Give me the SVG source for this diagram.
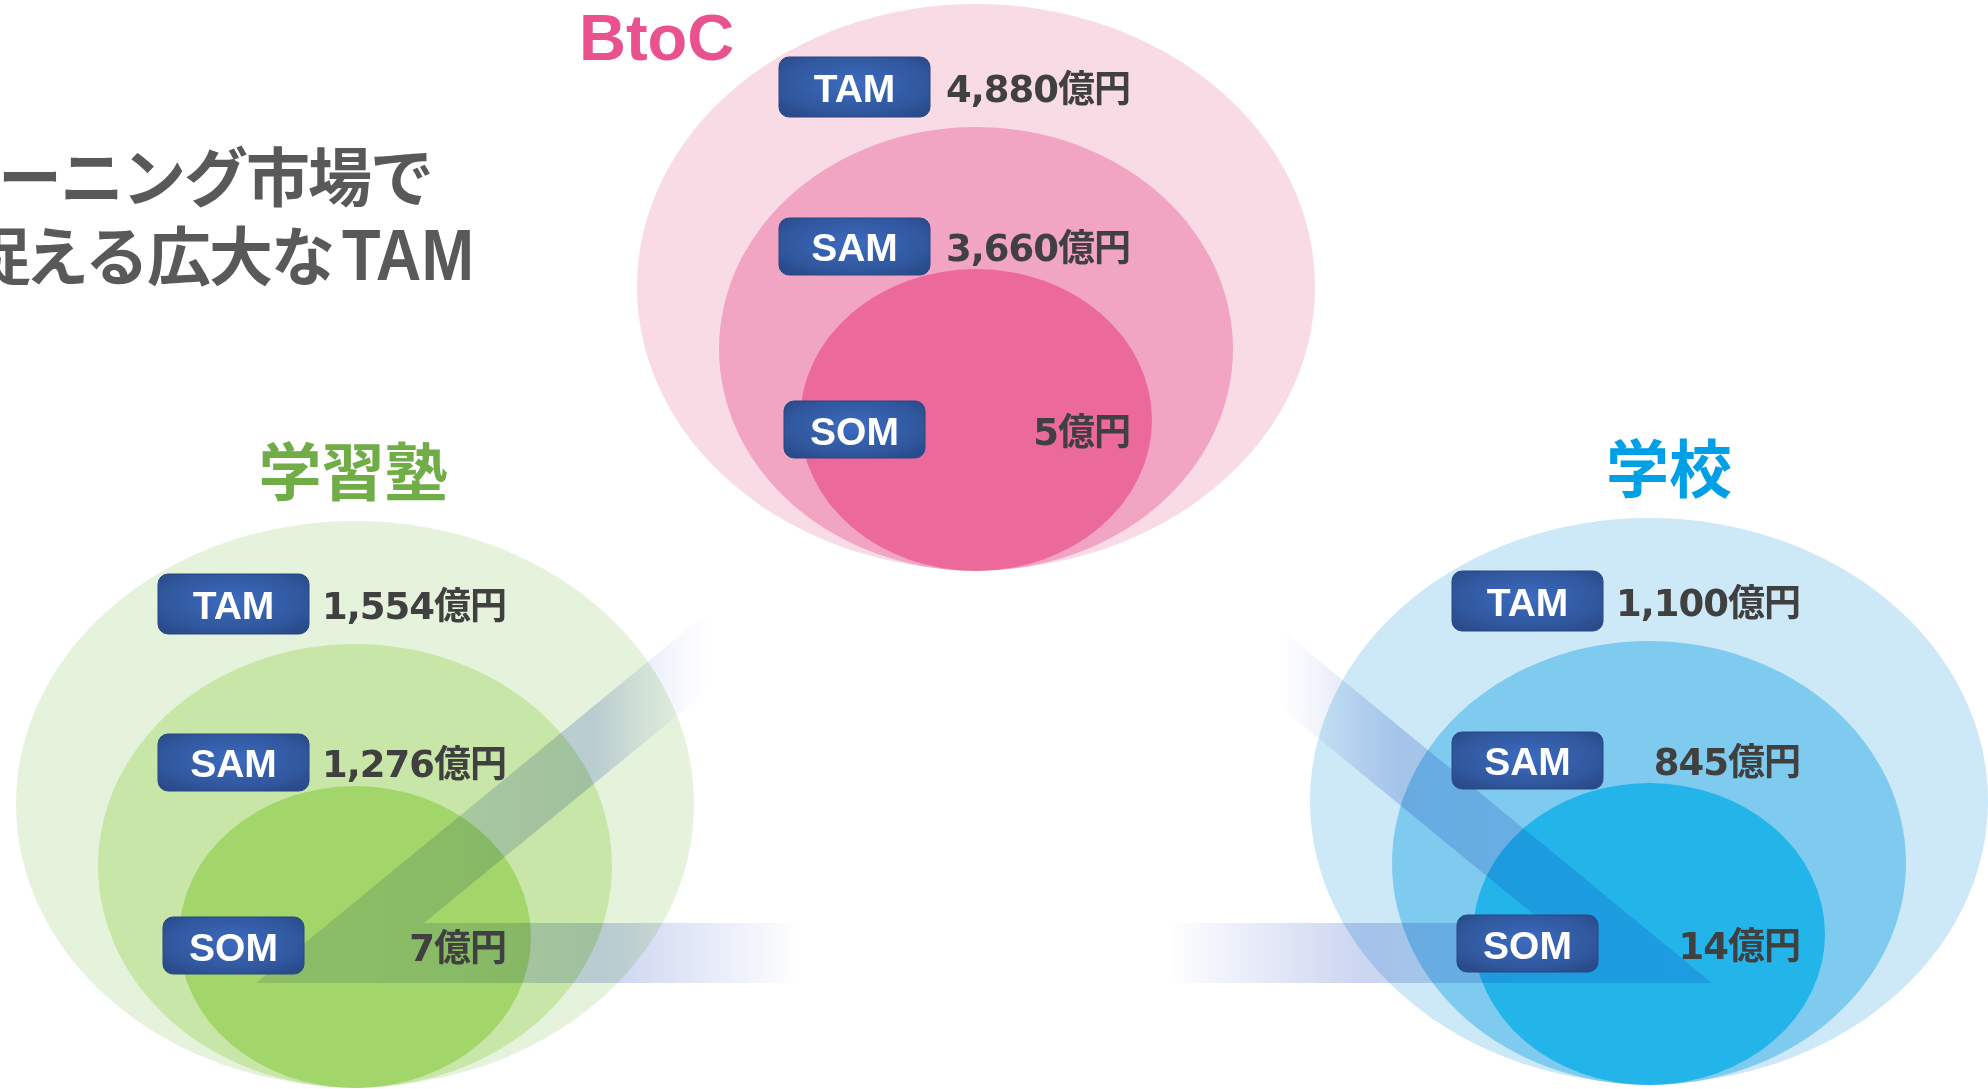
<svg xmlns="http://www.w3.org/2000/svg" width="1988" height="1089" viewBox="0 0 1988 1089">
  <defs>
    <radialGradient id="boxGrad" cx="50%" cy="45%" r="65%">
      <stop offset="0" stop-color="#3d6bbf"/>
      <stop offset="0.7" stop-color="#31589f"/>
      <stop offset="1" stop-color="#2a4b8b"/>
    </radialGradient>
    <!-- band tint: strongest at both bottom corners, clear in the middle -->
    <linearGradient id="bandGrad" gradientUnits="userSpaceOnUse" x1="256" y1="0" x2="1712" y2="0">
      <stop offset="0" stop-color="#dce3f5"/>
      <stop offset="0.14" stop-color="#d6def4"/>
      <stop offset="0.24" stop-color="#ccd5f1"/>
      <stop offset="0.375" stop-color="#ffffff"/>
      <stop offset="0.625" stop-color="#ffffff"/>
      <stop offset="0.76" stop-color="#ccd5f1"/>
      <stop offset="0.86" stop-color="#d2dbf3"/>
      <stop offset="1" stop-color="#d4dcf3"/>
    </linearGradient>
    <!-- fades the upper ends of the two slanted arms -->
    <linearGradient id="armFade" gradientUnits="userSpaceOnUse" x1="0" y1="0" x2="1988" y2="0">
      <stop offset="0.296" stop-color="#ffffff"/>
      <stop offset="0.358" stop-color="#000000"/>
      <stop offset="0.642" stop-color="#000000"/>
      <stop offset="0.704" stop-color="#ffffff"/>
    </linearGradient>
    <mask id="bandMask" maskUnits="userSpaceOnUse" x="0" y="0" width="1988" height="1089">
      <rect x="0" y="0" width="1988" height="923" fill="url(#armFade)"/>
      <rect x="0" y="923" width="1988" height="166" fill="#ffffff"/>
    </mask>
  </defs>
  <style>
    .box { fill: url(#boxGrad); stroke: #294783; stroke-width: 1; }
    .lbl { font-family: "Liberation Sans", Arial, sans-serif; font-weight: bold; font-size: 39px; fill: #ffffff; text-anchor: middle; }
    .val { font-family: "DejaVu Sans", "Noto Sans CJK JP", sans-serif; font-weight: bold; font-size: 37px; letter-spacing: -1px; fill: #404040; text-anchor: end; }
    .head { font-family: "Noto Sans CJK JP", sans-serif; font-weight: bold; font-size: 63px; text-anchor: middle; }
    .title { font-family: "Noto Sans CJK JP", sans-serif; font-weight: bold; font-size: 64px; letter-spacing: -2px; fill: #595959; }
    .pk1 { fill: #f9dbe6; } .pk2 { fill: #f2a4c3; } .pk3 { fill: #ec699c; }
    .gr1 { fill: #e6f3dc; } .gr2 { fill: #c8e6a7; } .gr3 { fill: #a3d66a; }
    .bl1 { fill: #cde9f7; } .bl2 { fill: #7fcbef; } .bl3 { fill: #23b5ea; }
  </style>

  <rect width="1988" height="1089" fill="#ffffff"/>

  <!-- heading -->
  <g id="title">
    <text class="title" x="-2" y="201">ーニング市場で</text>
    <text class="title" y="280"><tspan x="-33 25">捉える広大な</tspan><tspan x="342" font-family="Liberation Sans, Arial, sans-serif" font-size="72" letter-spacing="0" textLength="132" lengthAdjust="spacingAndGlyphs">TAM</tspan></text>
  </g>

  <!-- market ellipses -->
  <g id="btoc-circles" transform="translate(976,287)">
    <ellipse class="pk1" cx="0" cy="0" rx="339" ry="283"/>
    <ellipse class="pk2" cx="0" cy="62" rx="257" ry="222"/>
    <ellipse class="pk3" cx="0" cy="133" rx="176" ry="151"/>
  </g>
  <g id="juku-circles" transform="translate(355,804)">
    <ellipse class="gr1" cx="0" cy="0" rx="339" ry="283"/>
    <ellipse class="gr2" cx="0" cy="62" rx="257" ry="222"/>
    <ellipse class="gr3" cx="0" cy="133" rx="176" ry="151"/>
  </g>
  <g id="school-circles" transform="translate(1649,801)">
    <ellipse class="bl1" cx="0" cy="0" rx="339" ry="283"/>
    <ellipse class="bl2" cx="0" cy="62" rx="257" ry="222"/>
    <ellipse class="bl3" cx="0" cy="133" rx="176" ry="151"/>
  </g>

  <!-- connecting band between the three markets (open-topped triangle) -->
  <g id="connectors" style="mix-blend-mode:multiply">
    <path d="M256,983 L706,614 L706,692 L424,923 L1544,923 L1262,692 L1262,614 L1712,983 Z" fill="url(#bandGrad)" mask="url(#bandMask)"/>
  </g>

  <!-- market headings -->
  <g id="btoc-head">
    <text x="579" y="60" font-family="Liberation Sans, Arial, sans-serif" font-weight="bold" font-size="65" fill="#e9528e">BtoC</text>
  </g>
  <g id="juku-head">
    <text class="head" x="353" y="495" fill="#70ad47">学習塾</text>
  </g>
  <g id="school-head">
    <text class="head" x="1669" y="492" fill="#00a0e6">学校</text>
  </g>

  <!-- TAM / SAM / SOM labels and values -->
  <g id="btoc-labels" transform="translate(976,287)">
    <rect class="box" x="-197" y="-230" width="151" height="60" rx="10"/>
    <text class="lbl" x="-121.5" y="-185">TAM</text>
    <text class="val" x="154" y="-185">4,880億円</text>
    <rect class="box" x="-197" y="-69" width="151" height="57" rx="10"/>
    <text class="lbl" x="-121.5" y="-26">SAM</text>
    <text class="val" x="154" y="-26">3,660億円</text>
    <rect class="box" x="-192" y="114" width="141" height="57" rx="10"/>
    <text class="lbl" x="-121.5" y="158">SOM</text>
    <text class="val" x="154" y="158">5億円</text>
  </g>
  <g id="juku-labels" transform="translate(355,804)">
    <rect class="box" x="-197" y="-230" width="151" height="60" rx="10"/>
    <text class="lbl" x="-121.5" y="-185">TAM</text>
    <text class="val" x="151" y="-185">1,554億円</text>
    <rect class="box" x="-197" y="-70" width="151" height="57" rx="10"/>
    <text class="lbl" x="-121.5" y="-27">SAM</text>
    <text class="val" x="151" y="-27">1,276億円</text>
    <rect class="box" x="-192" y="113" width="141" height="57" rx="10"/>
    <text class="lbl" x="-121.5" y="157">SOM</text>
    <text class="val" x="151" y="157">7億円</text>
  </g>
  <g id="school-labels" transform="translate(1649,801)">
    <rect class="box" x="-197" y="-230" width="151" height="60" rx="10"/>
    <text class="lbl" x="-121.5" y="-185">TAM</text>
    <text class="val" x="151" y="-185">1,100億円</text>
    <rect class="box" x="-197" y="-69" width="151" height="57" rx="10"/>
    <text class="lbl" x="-121.5" y="-26">SAM</text>
    <text class="val" x="151" y="-26">845億円</text>
    <rect class="box" x="-192" y="114" width="141" height="57" rx="10"/>
    <text class="lbl" x="-121.5" y="158">SOM</text>
    <text class="val" x="151" y="158">14億円</text>
  </g>
</svg>
